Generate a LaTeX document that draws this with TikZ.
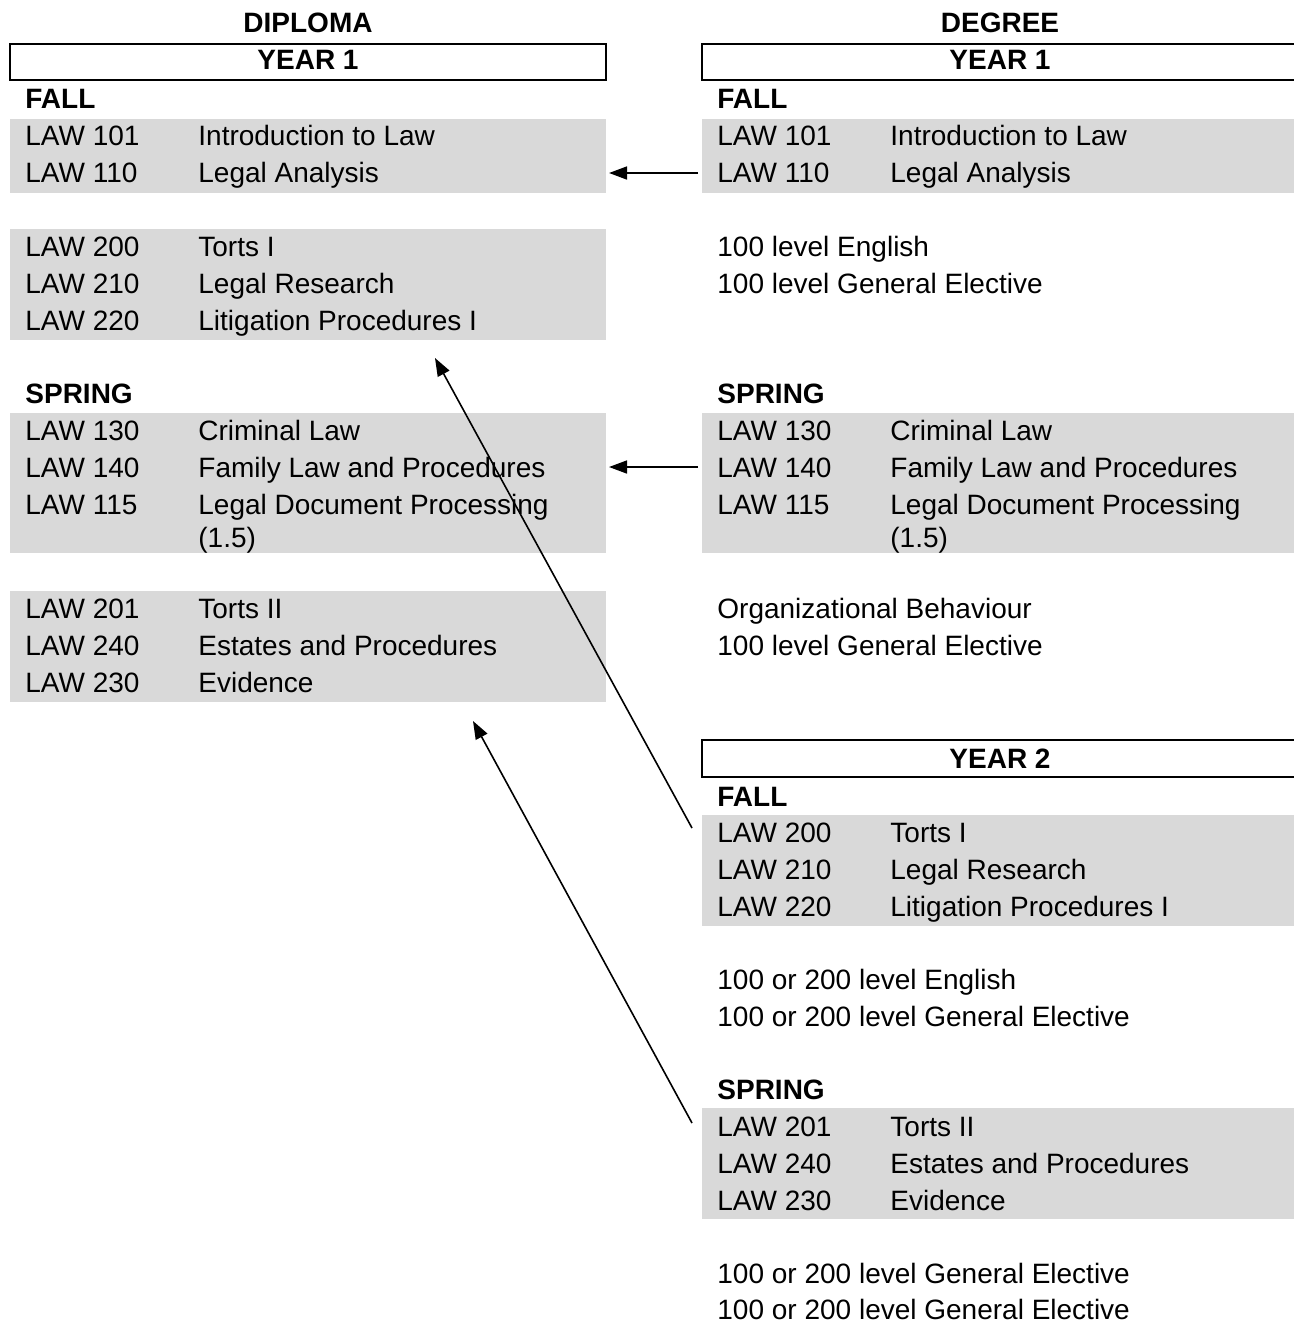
\documentclass[tikz,border=0pt]{standalone}
\usepackage{fontspec}
\setmainfont{Liberation Sans}
\usetikzlibrary{arrows.meta,fit}
\definecolor{shade}{RGB}{217,217,217}
\newcommand\crsrow[6]{%
  \node[txt] (#1c) at (#2,#4+10) {#5};
  \node[txt] (#1t) at (#3,#4+10) {#6};}
\begin{document}
\begin{tikzpicture}[x=0.5pt,y=-0.5pt,
  txt/.style={anchor=base west,inner sep=0pt,font=\fontsize{14}{16}\selectfont},
  hd/.style={txt,font=\fontsize{14}{16}\selectfont\bfseries},
  hdc/.style={hd,anchor=base},
  graybox/.style={fill=shade,draw=none,inner sep=0pt},
  yearbox/.style={draw=black,line width=1pt,inner sep=0pt},
  arr/.style={-{Triangle[length=9pt,width=6.5pt]},line width=0.8pt}]
\useasboundingbox (0,0) rectangle (1294,1322);
\clip (0,0) rectangle (1294,1322);
% ---------- shaded blocks ----------
\node[graybox,fit={(10,119)(606,193)}] (dF1) {};
\node[graybox,fit={(10,229)(606,340)}] (dF2) {};
\node[graybox,fit={(10,413)(606,553)}] (dS1) {};
\node[graybox,fit={(10,591)(606,702)}] (dS2) {};
\node[graybox,fit={(702,119)(1310,193)}] (rF1) {};
\node[graybox,fit={(702,413)(1310,553)}] (rS1) {};
\node[graybox,fit={(702,815)(1310,926)}] (rF2) {};
\node[graybox,fit={(702,1108)(1310,1219)}] (rS2) {};
% ---------- year boxes ----------
\node[yearbox,fit={(10,44)(606,80)}] (dY1) {};
\node[yearbox,fit={(702,44)(1320,80)}] (rY1) {};
\node[yearbox,fit={(702,740)(1320,777)}] (rY2) {};
% ---------- headings ----------
\node[hdc] (dip) at (308,33) {DIPLOMA};
\node[hdc] (deg) at (1000,33) {DEGREE};
\node[hdc] (dY1t) at (308,70) {YEAR 1};
\node[hdc] (rY1t) at (1000,70) {YEAR 1};
\node[hdc] (rY2t) at (1000,768) {YEAR 2};
\node[hd] (dFall) at (25,109) {FALL};
\node[hd] (dSpring) at (25,403) {SPRING};
\node[hd] (rFall) at (717,109) {FALL};
\node[hd] (rSpring) at (717,403) {SPRING};
\node[hd] (rFall2) at (717,806) {FALL};
\node[hd] (rSpring2) at (717,1099) {SPRING};
% ---------- diploma ----------
\crsrow{dA}{25}{198}{136}{LAW 101}{Introduction to Law}
\crsrow{dB}{25}{198}{173}{LAW 110}{Legal Analysis}
\crsrow{dC}{25}{198}{246}{LAW 200}{Torts I}
\crsrow{dD}{25}{198}{283}{LAW 210}{Legal Research}
\crsrow{dE}{25}{198}{320}{LAW 220}{Litigation Procedures I}
\crsrow{dG}{25}{198}{430}{LAW 130}{Criminal Law}
\crsrow{dH}{25}{198}{467}{LAW 140}{Family Law and Procedures}
\crsrow{dI}{25}{198}{504}{LAW 115}{Legal Document Processing}
\node[txt] (dIx) at (198,547) {(1.5)};
\crsrow{dJ}{25}{198}{608}{LAW 201}{Torts II}
\crsrow{dK}{25}{198}{645}{LAW 240}{Estates and Procedures}
\crsrow{dL}{25}{198}{682}{LAW 230}{Evidence}
% ---------- degree ----------
\crsrow{rA}{717}{890}{136}{LAW 101}{Introduction to Law}
\crsrow{rB}{717}{890}{173}{LAW 110}{Legal Analysis}
\node[txt] (rE1) at (717,256) {100 level English};
\node[txt] (rE2) at (717,293) {100 level General Elective};
\crsrow{rG}{717}{890}{430}{LAW 130}{Criminal Law}
\crsrow{rH}{717}{890}{467}{LAW 140}{Family Law and Procedures}
\crsrow{rI}{717}{890}{504}{LAW 115}{Legal Document Processing}
\node[txt] (rIx) at (890,547) {(1.5)};
\node[txt] (rE3) at (717,618) {Organizational Behaviour};
\node[txt] (rE4) at (717,655) {100 level General Elective};
\crsrow{rC}{717}{890}{832}{LAW 200}{Torts I}
\crsrow{rD}{717}{890}{869}{LAW 210}{Legal Research}
\crsrow{rF}{717}{890}{906}{LAW 220}{Litigation Procedures I}
\node[txt] (rE5) at (717,989) {100 or 200 level English};
\node[txt] (rE6) at (717,1026) {100 or 200 level General Elective};
\crsrow{rJ}{717}{890}{1126}{LAW 201}{Torts II}
\crsrow{rK}{717}{890}{1163}{LAW 240}{Estates and Procedures}
\crsrow{rL}{717}{890}{1200}{LAW 230}{Evidence}
\node[txt] (rE7) at (717,1283) {100 or 200 level General Elective};
\node[txt] (rE8) at (717,1319) {100 or 200 level General Elective};
% ---------- connectors ----------
\coordinate (a1s) at (698,173); \coordinate (a1e) at (609,173);
\coordinate (a2s) at (698,467); \coordinate (a2e) at (609,467);
\coordinate (a3s) at (692,828); \coordinate (a3e) at (435,358);
\coordinate (a4s) at (692,1123); \coordinate (a4e) at (473,721);
\draw[arr] (a1s) -- (a1e);
\draw[arr] (a2s) -- (a2e);
\draw[arr] (a3s) -- (a3e);
\draw[arr] (a4s) -- (a4e);
\end{tikzpicture}
\end{document}
